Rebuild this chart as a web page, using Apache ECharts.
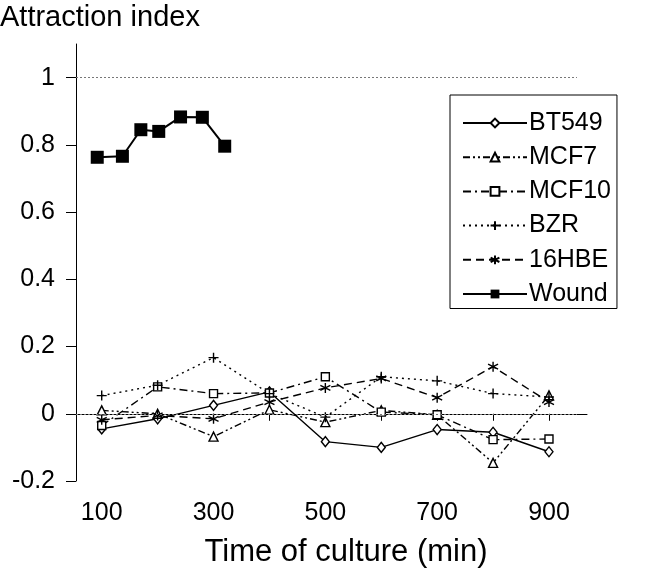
<!DOCTYPE html>
<html>
<head>
<meta charset="utf-8">
<script src="https://cdn.jsdelivr.net/npm/echarts@6/dist/echarts.min.js"></script>
<style>
html,body{margin:0;padding:0;background:#fff;}
#chart{width:652px;height:581px;}
</style>
</head>
<body>
<div id="chart"></div>
<script>
// ---- data ----
var times = [100, 200, 300, 400, 500, 600, 700, 800, 900];
var BT549 = [-0.045, -0.015, 0.025, 0.065, -0.083, -0.100, -0.047, -0.055, -0.113];
var MCF7  = [0.010, 0.000, -0.068, 0.012, -0.025, 0.010, -0.003, -0.146, 0.055];
var MCF10 = [-0.035, 0.080, 0.060, 0.062, 0.110, 0.005, -0.003, -0.077, -0.075];
var BZR   = [0.054, 0.085, 0.167, 0.060, -0.010, 0.110, 0.098, 0.060, 0.050];
var HBE16 = [-0.018, -0.005, -0.015, 0.035, 0.077, 0.105, 0.048, 0.140, 0.035];
var woundTimes = [92, 137, 170, 202, 241, 280, 320];
var Wound = [0.763, 0.766, 0.845, 0.840, 0.883, 0.882, 0.796];

var xTickValues = [100, 200, 300, 400, 500, 600, 700, 800, 900];
var xLabelValues = [100, 300, 500, 700, 900];
var yTickValues = [-0.2, 0, 0.2, 0.4, 0.6, 0.8, 1];
var refLines = [0, 1];

function pairs(xs, ys) { return xs.map(function (x, i) { return [x, ys[i]]; }); }

var FONT = 'Liberation Sans';
var X_MIN = 54, X_MAX = 968, REF_END = 950;

var plusPath = 'path://M0,5L10,5M5,0L5,10';
var starPath = 'path://M5,0L5,10M0.7,2.5L9.3,7.5M0.7,7.5L9.3,2.5';

function mkSeries(name, xs, ys, symbol, size, dash, extra) {
  var s = {
    name: name,
    type: 'line',
    data: pairs(xs, ys),
    symbol: symbol,
    symbolSize: size,
    showAllSymbol: true,
    lineStyle: { color: '#000', width: 1.4, type: dash },
    itemStyle: { color: '#fff', borderColor: '#000', borderWidth: 1.4 },
    emphasis: { disabled: true },
    animation: false,
    z: 3
  };
  if (extra) { for (var k in extra) s[k] = extra[k]; }
  return s;
}

var series = [
  mkSeries('BT549', times, BT549, 'diamond', [8, 10], 'solid'),
  mkSeries('MCF7', times, MCF7, 'triangle', 9, [7, 3, 2, 3, 2, 3]),
  mkSeries('MCF10', times, MCF10, 'rect', 8, [8, 4, 2, 4]),
  mkSeries('BZR', times, BZR, plusPath, 10, [2, 4]),
  mkSeries('16HBE', times, HBE16, starPath, 10, [8, 5]),
  mkSeries('Wound', woundTimes, Wound, 'rect', 13, 'solid', {
    lineStyle: { color: '#000', width: 2 },
    itemStyle: { color: '#000', borderColor: '#000', borderWidth: 0 },
    z: 4
  })
];

// reference dotted lines at 0 and 1
series.push({
  name: 'ref',
  type: 'line',
  data: [],
  silent: true,
  animation: false,
  markLine: {
    silent: true,
    symbol: 'none',
    label: { show: false },
    lineStyle: { color: '#777', width: 1, type: [2, 2] },
    data: refLines.map(function (v) { return [{ coord: [X_MIN, v] }, { coord: [REF_END, v] }]; })
  }
});

var chart = echarts.init(document.getElementById('chart'), null, { renderer: 'canvas' });
chart.setOption({
  backgroundColor: '#fff',
  animation: false,
  textStyle: { fontFamily: FONT, color: '#000' },
  title: [
    { text: 'Attraction index', left: 0, top: 3, padding: 0,
      textStyle: { fontFamily: FONT, fontSize: 29, fontWeight: 'normal', color: '#000' } },
    { text: 'Time of culture (min)', left: 346, top: 537, textAlign: 'center', padding: 0,
      textStyle: { fontFamily: FONT, fontSize: 31, fontWeight: 'normal', color: '#000' } }
  ],
  grid: { left: 76, right: 65, top: 44, bottom: 100, containLabel: false },
  xAxis: {
    type: 'value',
    min: X_MIN, max: X_MAX,
    axisLine: { show: true, lineStyle: { color: '#000', width: 1 } },
    axisTick: { show: true, inside: false, length: 7, customValues: xTickValues, lineStyle: { color: '#000' } },
    axisLabel: { customValues: xLabelValues, fontFamily: FONT, fontSize: 25, color: '#000', margin: 20 },
    splitLine: { show: false }
  },
  yAxis: {
    type: 'value',
    min: -0.2, max: 1.1,
    axisLine: { show: true, lineStyle: { color: '#000', width: 1 } },
    axisTick: { show: true, inside: false, length: 10, customValues: yTickValues, lineStyle: { color: '#000' } },
    axisLabel: { customValues: yTickValues, fontFamily: FONT, fontSize: 25, color: '#000', margin: 21 },
    splitLine: { show: false }
  },
  legend: {
    orient: 'vertical',
    left: 450, top: 95,
    data: ['BT549', 'MCF7', 'MCF10', 'BZR', '16HBE', 'Wound'],
    itemWidth: 64, itemHeight: 11, itemGap: 9.2,
    padding: [15.5, 6, 2, 12],
    borderColor: '#000', borderWidth: 1,
    backgroundColor: '#fff',
    selectedMode: false,
    textStyle: { fontFamily: FONT, fontSize: 25, color: '#000', padding: [0, 0, 0, -3] }
  },
  series: series
});
</script>
</body>
</html>
